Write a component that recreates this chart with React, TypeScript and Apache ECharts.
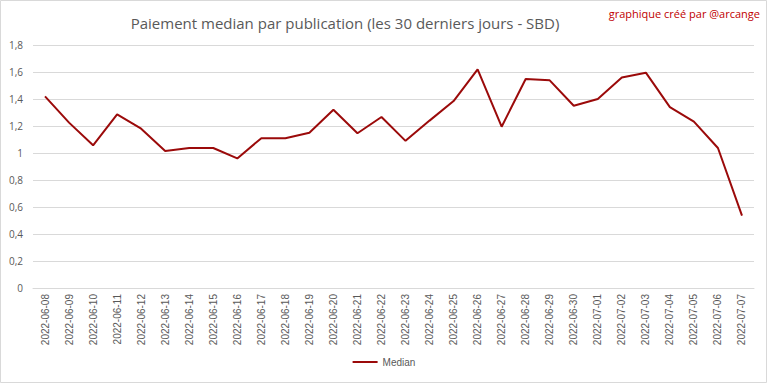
import React, { useEffect, useRef } from "react";
import * as echarts from "echarts";

const categories = [
  "2022-06-08", "2022-06-09", "2022-06-10", "2022-06-11", "2022-06-12",
  "2022-06-13", "2022-06-14", "2022-06-15", "2022-06-16", "2022-06-17",
  "2022-06-18", "2022-06-19", "2022-06-20", "2022-06-21", "2022-06-22",
  "2022-06-23", "2022-06-24", "2022-06-25", "2022-06-26", "2022-06-27",
  "2022-06-28", "2022-06-29", "2022-06-30", "2022-07-01", "2022-07-02",
  "2022-07-03", "2022-07-04", "2022-07-05", "2022-07-06", "2022-07-07",
];

const medianValues = [
  1.42, 1.225, 1.057, 1.286, 1.18,
  1.015, 1.037, 1.037, 0.96, 1.11,
  1.11, 1.15, 1.32, 1.146, 1.267,
  1.09, 1.24, 1.385, 1.62, 1.195,
  1.548, 1.538, 1.35, 1.40, 1.56,
  1.595, 1.34, 1.232, 1.037, 0.536,
];

const titleText = "Paiement median par publication (les 30 derniers jours - SBD)";
const watermarkText = "graphique créé par @arcange";
const seriesName = "Median";

const FONT = "'Open Sans', 'Noto Sans', sans-serif";
const AXIS_FONT = "'Liberation Sans', Arial, sans-serif";

export default function App() {
  const ref = useRef<HTMLDivElement>(null);

  useEffect(() => {
    if (!ref.current) return;
    const chart = echarts.init(ref.current, undefined, { renderer: "svg" });
    chart.setOption({
      animation: false,
      backgroundColor: "#ffffff",
      title: {
        text: titleText,
        left: 340,
        textAlign: "center",
        top: 10,
        textStyle: {
          fontFamily: FONT,
          fontSize: 15,
          fontWeight: "normal",
          color: "#595959",
        },
      },
      graphic: [
        {
          type: "rect",
          shape: { x: 0.5, y: 0.5, width: 766, height: 382 },
          style: { fill: "none", stroke: "#d9d9d9", lineWidth: 1 },
          silent: true,
        },
        {
          type: "text",
          right: 8,
          top: 8,
          style: {
            text: watermarkText,
            fill: "#c00000",
            font: `11px ${FONT}`,
          },
        },
      ],
      legend: {
        bottom: 12,
        left: "center",
        icon: "rect",
        itemWidth: 25,
        itemHeight: 2,
        data: [seriesName],
        textStyle: { fontFamily: AXIS_FONT, fontSize: 10, color: "#595959" },
      },
      grid: {
        left: 33,
        right: 14,
        top: 45,
        bottom: 96,
        containLabel: false,
      },
      xAxis: {
        type: "category",
        data: categories,
        boundaryGap: true,
        axisLine: { show: true, lineStyle: { color: "#d9d9d9" } },
        axisTick: { show: false },
        axisLabel: {
          rotate: 90,
          interval: 0,
          margin: 6,
          fontFamily: AXIS_FONT,
          fontSize: 10,
          color: "#595959",
        },
      },
      yAxis: {
        type: "value",
        min: 0,
        max: 1.8,
        interval: 0.2,
        axisLine: { show: false },
        axisTick: { show: false },
        splitLine: { lineStyle: { color: "#d9d9d9", width: 1 } },
        axisLabel: {
          margin: 10,
          fontFamily: FONT,
          fontSize: 10,
          color: "#595959",
          formatter: (v: number) => String(Math.round(v * 10) / 10).replace(".", ","),
        },
      },
      series: [
        {
          name: seriesName,
          type: "line",
          data: medianValues,
          symbol: "none",
          lineStyle: { color: "#9b0a0a", width: 2 },
          itemStyle: { color: "#9b0a0a" },
        },
      ],
    });
    return () => chart.dispose();
  }, []);

  return (
    <div
      ref={ref}
      style={{ position: "fixed", left: 0, top: 0, width: 768, height: 384 }}
    />
  );
}
